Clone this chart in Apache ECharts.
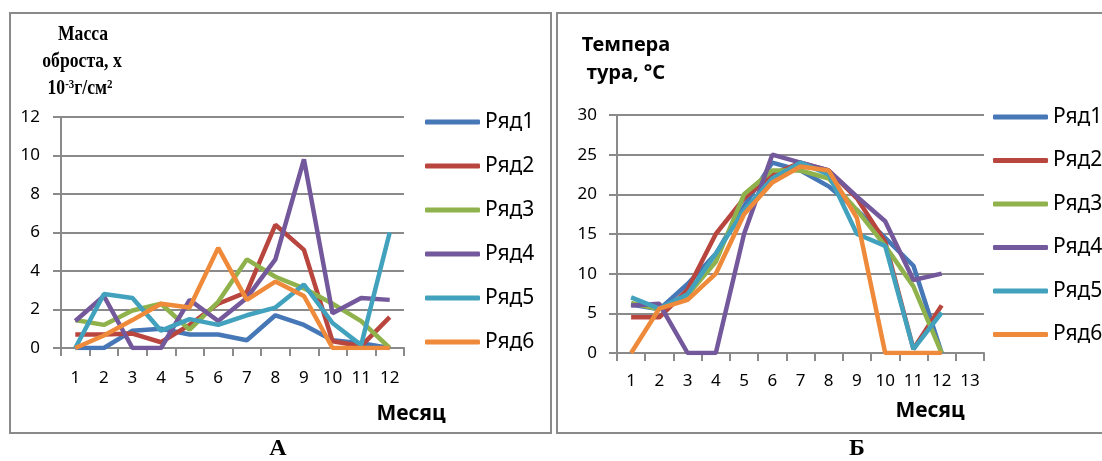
<!DOCTYPE html>
<html>
<head>
<meta charset="utf-8">
<script src="https://cdn.jsdelivr.net/npm/echarts@6/dist/echarts.min.js"></script>
<style>
html, body { margin: 0; padding: 0; background: #fff; }
#chart { width: 1102px; height: 461px; }
</style>
</head>
<body>
<div id="chart"></div>
<script>
// названия рядов и месяцы
var rowNames = ['Ряд1', 'Ряд2', 'Ряд3', 'Ряд4', 'Ряд5', 'Ряд6'];
var monthsA = ['1', '2', '3', '4', '5', '6', '7', '8', '9', '10', '11', '12'];
var monthsB = ['1', '2', '3', '4', '5', '6', '7', '8', '9', '10', '11', '12', '13'];

// А: масса оброста
var massRow1 = [0, 0, 0.9, 1.0, 0.7, 0.7, 0.4, 1.7, 1.2, 0.4, 0.25, 0];
var massRow2 = [0.7, 0.7, 0.75, 0.3, 1.2, 2.3, 2.9, 6.4, 5.1, 0.35, 0.1, 1.6];
var massRow3 = [1.45, 1.2, 1.95, 2.3, 0.95, 2.4, 4.6, 3.7, 3.1, 2.3, 1.4, 0];
var massRow4 = [1.4, 2.7, 0, 0, 2.5, 1.4, 2.6, 4.6, 9.8, 1.8, 2.6, 2.5];
var massRow5 = [0, 2.8, 2.6, 0.9, 1.5, 1.2, 1.7, 2.1, 3.3, 1.3, 0.15, 6.0];
var massRow6 = [0, 0.65, 1.45, 2.3, 2.1, 5.2, 2.5, 3.45, 2.7, 0, 0, 0];

// Б: температура
var tempRow1 = [6.1, 5.5, 8.7, 12.5, 18.5, 24, 23, 21, 18, 14.5, 11, 0];
var tempRow2 = [4.5, 4.5, 8, 15, 19.5, 22.5, 24, 23, 19.5, 14, 0.5, 6];
var tempRow3 = [6.3, 5.5, 7.3, 11.5, 20, 23, 23, 22, 18, 13.5, 8.4, 0];
var tempRow4 = [6, 6.2, 0, 0, 15, 25, 24, 23, 19.7, 16.6, 9.2, 10];
var tempRow5 = [7, 5.6, 7.4, 12.5, 18, 22, 24, 22.5, 15, 13.5, 0.5, 5.1];
var tempRow6 = [0, 5.6, 6.7, 10, 17.5, 21.5, 23.5, 23, 17, 0, 0, 0];

var massTicks = [0, 12, 2];   // min, max, interval
var tempTicks = [0, 30, 5];

var myColors = ['#4677b6', '#b8463f', '#8fb24c', '#74589c', '#42a2bd', '#ee8a3a'];
var gray = '#8a8a8a';
var sans = '"Noto Sans", sans-serif';
var serif = '"Liberation Serif", serif';

var massRows = [massRow1, massRow2, massRow3, massRow4, massRow5, massRow6];
var tempRows = [tempRow1, tempRow2, tempRow3, tempRow4, tempRow5, tempRow6];

var series = [];
massRows.forEach(function (d, i) {
    series.push({
        name: rowNames[i], type: 'line', xAxisIndex: 0, yAxisIndex: 0,
        data: d, symbol: 'none', itemStyle: { color: myColors[i] },
        lineStyle: { width: 4.5, color: myColors[i] }
    });
});
tempRows.forEach(function (d, i) {
    series.push({
        name: rowNames[i], type: 'line', xAxisIndex: 1, yAxisIndex: 1,
        data: d, symbol: 'none', itemStyle: { color: myColors[i] },
        lineStyle: { width: 4.5, color: myColors[i] }
    });
});

function xAx(idx, cats, margin) {
    return {
        type: 'category', gridIndex: idx, data: cats, boundaryGap: true,
        axisLine: { lineStyle: { color: gray, width: 2 } },
        axisTick: { show: true, length: 8, lineStyle: { color: gray, width: 2 } },
        axisLabel: { color: '#000', fontFamily: sans, fontSize: 17, margin: margin, interval: 0 },
        splitLine: { show: false }
    };
}
function yAx(idx, t, margin) {
    return {
        type: 'value', gridIndex: idx, min: t[0], max: t[1], interval: t[2],
        axisLine: { show: true, lineStyle: { color: gray, width: 2 } },
        axisTick: { show: true, length: 8, lineStyle: { color: gray, width: 2 } },
        axisLabel: { color: '#000', fontFamily: sans, fontSize: 17, margin: margin },
        splitLine: { show: true, lineStyle: { color: gray, width: 2 } }
    };
}
function legend(left, top, gap) {
    return {
        data: rowNames, orient: 'vertical', left: left, top: top,
        icon: 'roundRect', itemWidth: 55, itemHeight: 5, itemGap: gap,
        textStyle: { color: '#000', fontFamily: sans, fontSize: 21, lineHeight: 24 }
    };
}
function txt(x, y, text, font, sx) {
    return {
        type: 'text', x: x, y: y, scaleX: sx || 1,
        style: { text: text, font: font, fill: '#000', align: 'center', verticalAlign: 'middle' }
    };
}

var myEcharts = echarts.init(document.getElementById('chart'));
var option = {
    animation: false,
    color: myColors,
    grid: [
        { left: 61, top: 117, width: 343, height: 231 },
        { left: 617, top: 115, width: 367, height: 238 }
    ],
    xAxis: [xAx(0, monthsA, 22), xAx(1, monthsB, 20)],
    yAxis: [yAx(0, massTicks, 21), yAx(1, tempTicks, 20)],
    legend: [legend(420, 105, 20), legend(988, 100, 19.5)],
    graphic: [
        { type: 'rect', shape: { x: 10, y: 13, width: 541, height: 420 }, style: { fill: 'none', stroke: gray, lineWidth: 2 } },
        { type: 'rect', shape: { x: 557, y: 13, width: 560, height: 420 }, style: { fill: 'none', stroke: gray, lineWidth: 2 } },
        txt(83, 35, 'Масса', 'bold 21px ' + serif, 0.84),
        txt(82, 62, 'оброста, х', 'bold 21px ' + serif, 0.84),
        {
            type: 'text', x: 80, y: 89, scaleX: 0.84,
            style: {
                text: '{a|10}{s|-3}{a|г/см}{s|2}', fill: '#000', align: 'center', verticalAlign: 'middle',
                rich: {
                    a: { font: 'bold 21px ' + serif, fill: '#000' },
                    s: { font: 'bold 13px ' + serif, fill: '#000', verticalAlign: 'top', padding: [0, 0, 8, 0] }
                }
            }
        },
        txt(626, 45, 'Темпера', 'bold 20px ' + sans),
        txt(626, 73, 'тура, °С', 'bold 20px ' + sans),
        txt(411, 414, 'Месяц', 'bold 21px ' + sans),
        txt(930, 411, 'Месяц', 'bold 21px ' + sans),
        txt(278, 449, 'А', 'bold 24px ' + serif),
        txt(857, 449, 'Б', 'bold 24px ' + serif)
    ],
    series: series
};
myEcharts.setOption(option);
</script>
</body>
</html>
